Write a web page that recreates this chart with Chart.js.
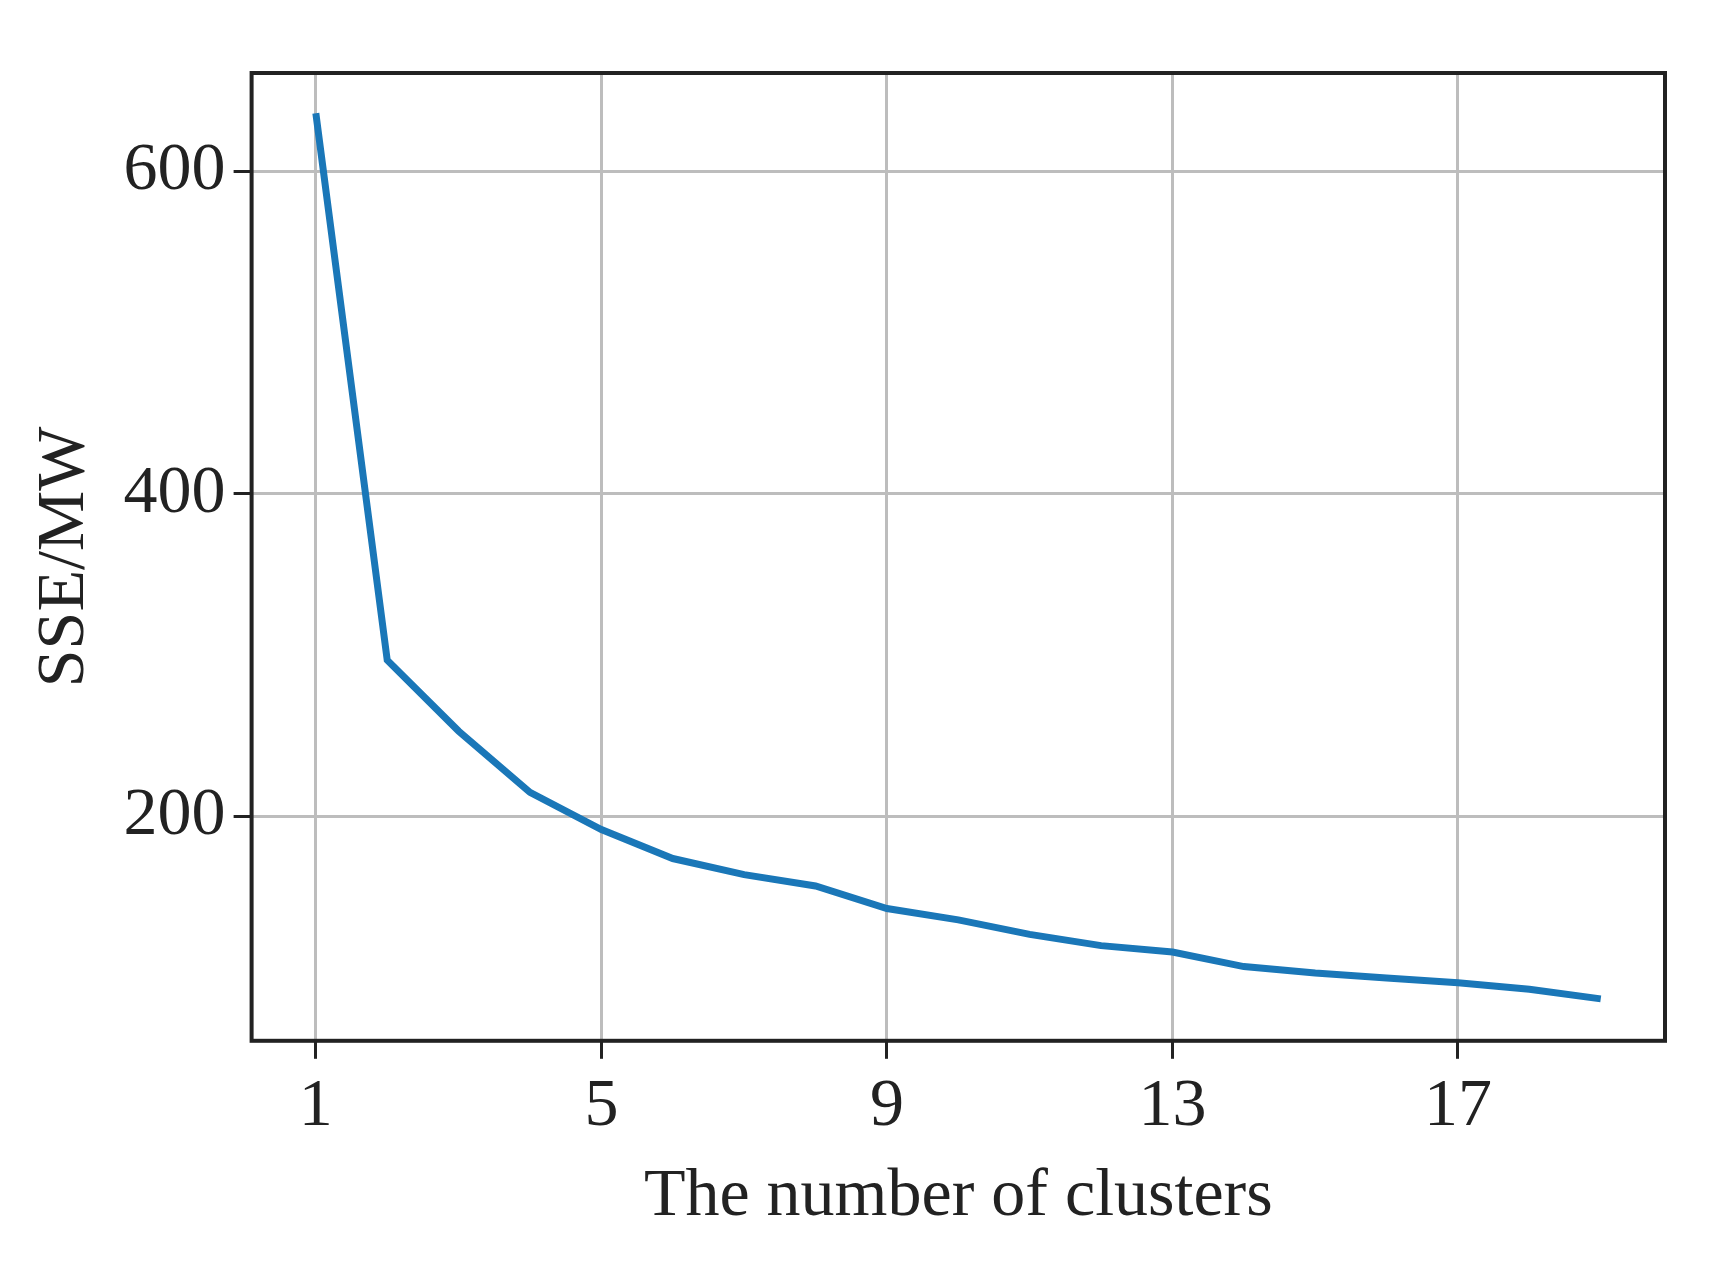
<!DOCTYPE html>
<html>
<head>
<meta charset="utf-8">
<script src="https://cdn.jsdelivr.net/npm/chart.js@4"></script>
<style>
  html, body { margin: 0; padding: 0; background: #fff; }
</style>
</head>
<body>
<canvas id="chart" width="1710" height="1262"></canvas>
<script>
const clusters = [1, 2, 3, 4, 5, 6, 7, 8, 9, 10, 11, 12, 13, 14, 15, 16, 17, 18, 19];
const sse = [636, 297, 253, 215, 192, 174, 164, 157, 143, 136, 127, 120, 116, 107, 103, 100, 97, 93, 87];
const xTicks = [1, 5, 9, 13, 17];
const yTicks = [200, 400, 600];

const font = { family: '"Liberation Serif", "DejaVu Serif", serif', size: 68 };

const boxPlugin = {
  id: 'box',
  afterDraw(chart) {
    const { ctx, chartArea: a } = chart;
    ctx.save();
    ctx.strokeStyle = '#222';
    ctx.lineWidth = 4;
    ctx.strokeRect(a.left, a.top, a.right - a.left, a.bottom - a.top);
    ctx.restore();
  }
};

new Chart(document.getElementById('chart'), {
  type: 'line',
  data: {
    datasets: [{
      data: clusters.map((c, i) => ({ x: c, y: sse[i] })),
      borderColor: '#1a77b8',
      borderWidth: 7,
      pointRadius: 0,
      tension: 0
    }]
  },
  options: {
    responsive: false,
    animation: false,
    devicePixelRatio: 1,
    layout: { padding: { left: 20, right: 45, top: 73, bottom: 20 } },
    plugins: { legend: { display: false }, tooltip: { enabled: false } },
    scales: {
      x: {
        type: 'linear',
        min: 0.1,
        max: 19.9,
        afterBuildTicks: (s) => { s.ticks = xTicks.map((v) => ({ value: v })); },
        grid: { color: '#bdbdbd', lineWidth: 3, tickColor: '#222', tickLength: 18 },
        border: { display: false },
        ticks: { color: '#222', font, padding: 8, maxRotation: 0 },
        title: { display: true, text: 'The number of clusters', color: '#222', font, padding: { top: 0 } }
      },
      y: {
        min: 61,
        max: 661,
        afterBuildTicks: (s) => { s.ticks = yTicks.map((v) => ({ value: v })); },
        grid: { color: '#bdbdbd', lineWidth: 3, tickColor: '#222', tickLength: 18 },
        border: { display: false },
        ticks: { color: '#222', font, padding: 8 },
        title: { display: true, text: 'SSE/MW', color: '#222', font, padding: { bottom: 10 } }
      }
    }
  },
  plugins: [boxPlugin]
});
</script>
</body>
</html>
